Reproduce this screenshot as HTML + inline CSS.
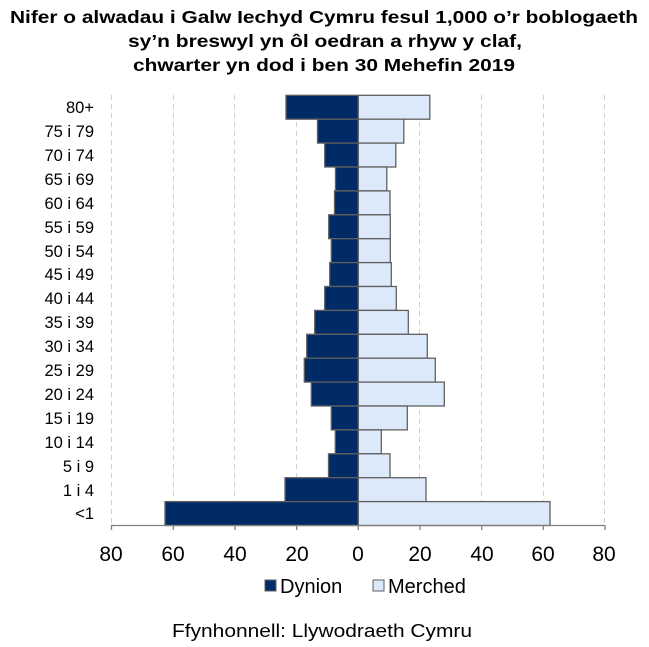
<!DOCTYPE html>
<html><head><meta charset="utf-8"><style>
html,body{margin:0;padding:0;background:#fff;}
svg{display:block;font-family:"Liberation Sans",Arial,sans-serif;}
</style></head><body>
<svg width="649" height="647" viewBox="0 0 649 647" xmlns="http://www.w3.org/2000/svg">
<g font-weight="bold" font-size="17.5" fill="#000">
<text x="10" y="23" textLength="628" lengthAdjust="spacingAndGlyphs">Nifer o alwadau i Galw Iechyd Cymru fesul 1,000 o’r boblogaeth</text>
<text x="128" y="47" textLength="394" lengthAdjust="spacingAndGlyphs">sy’n breswyl yn ôl oedran a rhyw y claf,</text>
<text x="133" y="71" textLength="382" lengthAdjust="spacingAndGlyphs">chwarter yn dod i ben 30 Mehefin 2019</text>
</g>
<g stroke="#d0d0d0" stroke-width="1" stroke-dasharray="5,4">
<line x1="111.5" y1="95" x2="111.5" y2="525"/>
<line x1="173.5" y1="95" x2="173.5" y2="525"/>
<line x1="234.5" y1="95" x2="234.5" y2="525"/>
<line x1="296.5" y1="95" x2="296.5" y2="525"/>
<line x1="419.5" y1="95" x2="419.5" y2="525"/>
<line x1="481.5" y1="95" x2="481.5" y2="525"/>
<line x1="543.5" y1="95" x2="543.5" y2="525"/>
<line x1="604.5" y1="95" x2="604.5" y2="525"/>
</g>
<g stroke="#606060" stroke-width="1.3">
<g fill="#002b66">
<rect x="286" y="95.3" width="72.3" height="23.9"/>
<rect x="317.5" y="119.2" width="40.8" height="23.9"/>
<rect x="324.7" y="143.1" width="33.6" height="23.9"/>
<rect x="335.5" y="167" width="22.8" height="23.9"/>
<rect x="334.5" y="190.9" width="23.8" height="23.9"/>
<rect x="328.7" y="214.8" width="29.6" height="23.9"/>
<rect x="331.3" y="238.7" width="27" height="23.9"/>
<rect x="329.7" y="262.6" width="28.6" height="23.9"/>
<rect x="324.7" y="286.5" width="33.6" height="23.9"/>
<rect x="314.7" y="310.4" width="43.6" height="23.9"/>
<rect x="306.7" y="334.3" width="51.6" height="23.9"/>
<rect x="304.3" y="358.2" width="54" height="23.9"/>
<rect x="311.3" y="382.1" width="47" height="23.9"/>
<rect x="331.3" y="406" width="27" height="23.9"/>
<rect x="335.3" y="429.9" width="23" height="23.9"/>
<rect x="328.5" y="453.8" width="29.8" height="23.9"/>
<rect x="285" y="477.7" width="73.3" height="23.9"/>
<rect x="165" y="501.6" width="193.3" height="23.9"/>
</g>
<g fill="#dce9fb">
<rect x="358.3" y="95.3" width="71.5" height="23.9"/>
<rect x="358.3" y="119.2" width="45.5" height="23.9"/>
<rect x="358.3" y="143.1" width="37.5" height="23.9"/>
<rect x="358.3" y="167" width="28.5" height="23.9"/>
<rect x="358.3" y="190.9" width="31.7" height="23.9"/>
<rect x="358.3" y="214.8" width="32" height="23.9"/>
<rect x="358.3" y="238.7" width="32" height="23.9"/>
<rect x="358.3" y="262.6" width="33" height="23.9"/>
<rect x="358.3" y="286.5" width="38" height="23.9"/>
<rect x="358.3" y="310.4" width="50" height="23.9"/>
<rect x="358.3" y="334.3" width="69" height="23.9"/>
<rect x="358.3" y="358.2" width="77" height="23.9"/>
<rect x="358.3" y="382.1" width="86" height="23.9"/>
<rect x="358.3" y="406" width="49" height="23.9"/>
<rect x="358.3" y="429.9" width="23" height="23.9"/>
<rect x="358.3" y="453.8" width="31.7" height="23.9"/>
<rect x="358.3" y="477.7" width="67.7" height="23.9"/>
<rect x="358.3" y="501.6" width="191.7" height="23.9"/>
</g>
</g>
<g stroke="#808080" stroke-width="1.3">
<line x1="111" y1="525.5" x2="605" y2="525.5"/>
<line x1="111.5" y1="525" x2="111.5" y2="530"/>
<line x1="173.3" y1="525" x2="173.3" y2="530"/>
<line x1="235" y1="525" x2="235" y2="530"/>
<line x1="296.7" y1="525" x2="296.7" y2="530"/>
<line x1="358.3" y1="525" x2="358.3" y2="530"/>
<line x1="420" y1="525" x2="420" y2="530"/>
<line x1="481.7" y1="525" x2="481.7" y2="530"/>
<line x1="543.3" y1="525" x2="543.3" y2="530"/>
<line x1="605" y1="525" x2="605" y2="530"/>
</g>
<g font-size="21" text-anchor="middle" fill="#000">
<text x="111" y="561">80</text><text x="173" y="561">60</text><text x="235" y="561">40</text><text x="297" y="561">20</text><text x="358" y="561">0</text><text x="420" y="561">20</text><text x="482" y="561">40</text><text x="543" y="561">60</text><text x="604" y="561">80</text>
</g>
<g font-size="16.5" text-anchor="end" fill="#000">
<text x="94" y="113">80+</text><text x="94" y="137">75 i 79</text><text x="94" y="161">70 i 74</text><text x="94" y="185">65 i 69</text><text x="94" y="209">60 i 64</text><text x="94" y="233">55 i 59</text><text x="94" y="257">50 i 54</text><text x="94" y="280">45 i 49</text><text x="94" y="304">40 i 44</text><text x="94" y="328">35 i 39</text><text x="94" y="352">30 i 34</text><text x="94" y="376">25 i 29</text><text x="94" y="400">20 i 24</text><text x="94" y="424">15 i 19</text><text x="94" y="448">10 i 14</text><text x="94" y="472">5 i 9</text><text x="94" y="496">1 i 4</text><text x="94" y="519">&lt;1</text>
</g>
<rect x="265" y="580" width="11" height="11" fill="#002b66" stroke="#606060"/>
<rect x="373" y="580" width="11" height="11" fill="#dce9fb" stroke="#606060"/>
<g font-size="20" fill="#000">
<text x="280" y="593">Dynion</text>
<text x="388" y="593">Merched</text>
</g>
<text x="172" y="637" font-size="18" textLength="300" lengthAdjust="spacingAndGlyphs" fill="#000">Ffynhonnell: Llywodraeth Cymru</text>
</svg>
</body></html>
